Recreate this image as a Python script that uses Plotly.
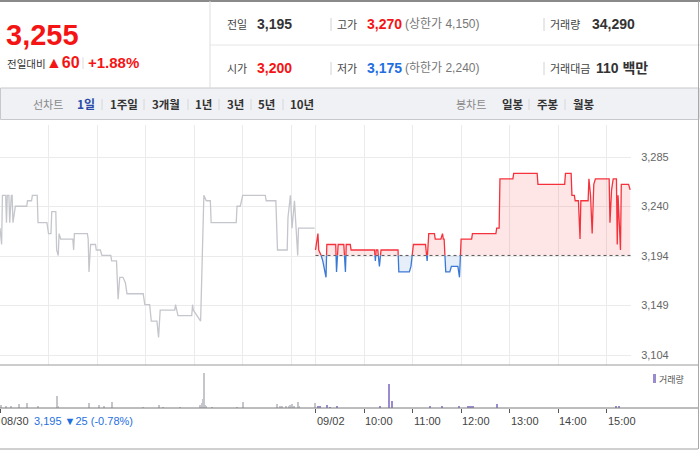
import plotly.graph_objects as go

W, H = 700, 450
PREV_CLOSE = 3195

# ---- Day 1 (08/30) : minutes after 09:00, price ----
d1_t = [0, 2, 3, 7, 8, 9, 11, 12, 14, 15, 16, 19, 33, 34, 39, 40, 46, 47, 58, 60,
        63, 64, 69, 70, 72, 73, 75, 90, 91, 92, 108, 109, 110, 112, 118, 119, 124, 126, 137, 138,
        144, 146, 148, 152, 155, 157, 177, 179, 185, 187, 194, 196, 198, 216, 217, 220, 237, 238, 239, 243,
        248, 252, 255, 260, 261, 292, 293, 297, 300, 328, 329, 341, 343, 355, 356, 359, 361, 364, 368, 369, 389]
d1_p = [3220, 3205, 3250, 3250, 3225, 3250, 3250, 3225, 3250, 3250, 3225, 3240, 3240, 3245, 3245, 3250, 3250, 3225, 3225, 3215,
        3215, 3235, 3235, 3200, 3195, 3215, 3210, 3210, 3200, 3215, 3215, 3210, 3180, 3205, 3205, 3200, 3200, 3195, 3195, 3190,
        3190, 3155, 3175, 3175, 3170, 3160, 3160, 3150, 3150, 3135, 3135, 3120, 3145, 3145, 3150, 3140, 3140, 3150, 3145, 3140,
        3135, 3250, 3245, 3245, 3225, 3225, 3240, 3240, 3250, 3250, 3245, 3245, 3200, 3200, 3230, 3250, 3220, 3245, 3195, 3220, 3220]

# ---- Day 2 (09/02) : minutes after 09:00, price ----
d2_t = [0, 3, 4, 7, 9, 13, 14, 25, 26, 28, 35, 37, 38, 43, 44, 73, 74, 75, 77, 79,
        81, 102, 103, 116, 118, 121, 136, 138, 140, 147, 148, 155, 157, 158, 159, 161, 166, 168, 176, 178,
        180, 193, 194, 223, 224, 227, 228, 244, 245, 274, 275, 308, 309, 316, 317, 320, 321, 325, 327, 328,
        337, 338, 340, 342, 344, 346, 363, 364, 366, 368, 372, 373, 374, 377, 378, 387, 389]
d2_p = [3200, 3215, 3200, 3195, 3190, 3175, 3205, 3205, 3180, 3205, 3205, 3180, 3205, 3205, 3200, 3200, 3190, 3200, 3200, 3185,
        3200, 3200, 3180, 3180, 3185, 3205, 3205, 3190, 3215, 3215, 3210, 3210, 3215, 3210, 3210, 3180, 3180, 3185, 3185, 3175,
        3210, 3210, 3215, 3215, 3220, 3220, 3265, 3265, 3270, 3270, 3260, 3260, 3270, 3270, 3250, 3250, 3245, 3245, 3210, 3245,
        3245, 3265, 3250, 3215, 3260, 3265, 3265, 3225, 3255, 3265, 3265, 3205, 3250, 3200, 3260, 3260, 3255]

# ---- Volume : minutes on the two-day axis, shares ----
vol1_t = [1, 8, 14, 23, 34, 47, 71, 72, 110, 123, 128, 139, 177, 196, 201, 222, 247, 250, 251, 252,
          253, 255, 262, 293, 300, 342, 346, 348, 354, 357, 359, 361, 363, 368, 370, 389]
vol1_v = [800, 400, 400, 1200, 1500, 600, 3600, 500, 1500, 800, 400, 1800, 300, 900, 300, 300, 800, 1400, 2700, 10800,
          1000, 500, 300, 300, 1800, 1200, 600, 600, 500, 600, 1000, 1200, 400, 1800, 400, 1600]
vol2_t = [393, 396, 404, 408, 417, 470, 481, 485, 532, 547, 568, 578, 580, 582, 585, 615, 762, 765]
vol2_v = [600, 400, 900, 300, 600, 400, 7500, 2200, 600, 400, 400, 400, 500, 400, 500, 1300, 400, 400]

y_tickvals = [3104, 3149.25, 3194.5, 3239.75, 3285]
y_ticktext = ["3,104", "3,149", "3,194", "3,240", "3,285"]
x_grid = [60, 120, 180, 240, 300, 360, 390, 450, 510, 570, 630, 690, 750]
x_ticks = [0, 390, 450, 510, 570, 630, 690, 750]
x_ticktext = ["08/30", "09/02", "10:00", "11:00", "12:00", "13:00", "14:00", "15:00"]

DAY = 390
t2 = [DAY + t for t in d2_t]

# split day-2 series at the previous close for red/blue colouring
xs, ys = [t2[0]], [d2_p[0]]
for i in range(1, len(t2)):
    a, b = d2_p[i - 1] - PREV_CLOSE, d2_p[i] - PREV_CLOSE
    if a * b < 0:
        xc = t2[i - 1] + (t2[i] - t2[i - 1]) * (-a) / (b - a)
        xs.append(xc)
        ys.append(PREV_CLOSE)
    xs.append(t2[i])
    ys.append(d2_p[i])
red_y = [v if v >= PREV_CLOSE else None for v in ys]
blue_y = [v if v <= PREV_CLOSE else None for v in ys]
up_fill = [max(v, PREV_CLOSE) for v in ys]
dn_fill = [min(v, PREV_CLOSE) for v in ys]

RED = "#f5323c"
BLUE = "#3a78d6"
GRAY = "#c4c6cb"

fig = go.Figure()
fig.add_trace(go.Scatter(x=d1_t, y=d1_p, mode="lines", line=dict(color=GRAY, width=1.3),
                         hoverinfo="skip", showlegend=False))
base_x = [t2[0], t2[-1]]
base_y = [PREV_CLOSE, PREV_CLOSE]
fig.add_trace(go.Scatter(x=base_x, y=base_y, mode="lines", line=dict(width=0), showlegend=False, hoverinfo="skip"))
fig.add_trace(go.Scatter(x=xs, y=up_fill, mode="lines", line=dict(width=0), fill="tonexty",
                         fillcolor="rgba(245,60,70,0.13)", showlegend=False, hoverinfo="skip"))
fig.add_trace(go.Scatter(x=base_x, y=base_y, mode="lines", line=dict(width=0), showlegend=False, hoverinfo="skip"))
fig.add_trace(go.Scatter(x=xs, y=dn_fill, mode="lines", line=dict(width=0), fill="tonexty",
                         fillcolor="rgba(60,120,215,0.13)", showlegend=False, hoverinfo="skip"))
fig.add_trace(go.Scatter(x=[DAY, 2 * DAY], y=base_y, mode="lines",
                         line=dict(color="#555555", width=1, dash="dot"), showlegend=False, hoverinfo="skip"))
fig.add_trace(go.Scatter(x=xs, y=red_y, mode="lines", line=dict(color=RED, width=1.3),
                         connectgaps=False, showlegend=False, hoverinfo="skip"))
fig.add_trace(go.Scatter(x=xs, y=blue_y, mode="lines", line=dict(color=BLUE, width=1.3),
                         connectgaps=False, showlegend=False, hoverinfo="skip"))

fig.add_trace(go.Bar(x=vol1_t, y=vol1_v, width=1.3, marker=dict(color="#c4c6cb", line=dict(width=0)),
                     xaxis="x2", yaxis="y2", showlegend=False, hoverinfo="skip"))
fig.add_trace(go.Bar(x=vol2_t, y=vol2_v, width=1.3, marker=dict(color="#9a8bd0", line=dict(width=0)),
                     xaxis="x2", yaxis="y2", showlegend=False, hoverinfo="skip"))


def px(x):
    return x / W


def py(y):
    return 1 - y / H


k = 181 / 198
plot_right = 631 / W
fig.update_layout(
    width=W, height=H, margin=dict(l=0, r=0, t=0, b=0),
    paper_bgcolor="white", plot_bgcolor="white", bargap=0,
    font=dict(family="Liberation Sans, Noto Sans CJK KR, sans-serif", color="#333"),
    xaxis=dict(domain=[0, plot_right], range=[0, 2 * DAY], tickvals=x_grid, showticklabels=False,
               showgrid=True, gridcolor="#ebebeb", gridwidth=1, zeroline=False, ticks="", fixedrange=True),
    yaxis=dict(domain=[py(365), py(125)], range=[3285 - (365 - 157) * k, 3285 + (157 - 125) * k],
               side="right", tickvals=y_tickvals, ticktext=y_ticktext, showgrid=True, gridcolor="#ebebeb",
               zeroline=False, ticks="outside", ticklen=7, tickcolor="rgba(0,0,0,0)",
               tickfont=dict(size=11, color="#666", family="Liberation Sans, sans-serif")),
    xaxis2=dict(domain=[0, plot_right], range=[0, 2 * DAY], anchor="y2", tickvals=x_ticks,
                showticklabels=False, ticks="outside", ticklen=4, tickcolor="#555", tickwidth=1,
                showgrid=False, zeroline=False),
    yaxis2=dict(domain=[py(408), py(366)], range=[0, 12900], visible=False),
)

shapes = []


def line(x0, y0, x1, y1, color, width=1):
    shapes.append(dict(type="line", xref="paper", yref="paper", x0=px(x0), y0=py(y0), x1=px(x1), y1=py(y1),
                       line=dict(color=color, width=width)))


# header
line(0, 1, 700, 1, "#8a8a8a", 2)
line(210, 1, 210, 88, "#dddddd")
line(210, 45, 700, 45, "#e6e6e6")
for sx in (331, 544):
    line(sx, 18, sx, 31, "#d2d2d2")
    line(sx, 62, sx, 75, "#d2d2d2")
line(83, 57, 83, 69, "#dddddd")
# toolbar
shapes.append(dict(type="rect", xref="paper", yref="paper", x0=px(0.5), x1=px(699), y0=py(88), y1=py(119.5),
                   fillcolor="#eff1f5", line=dict(color="#c6c8cc", width=1), layer="below"))
for sx in (102, 144, 188, 219, 251, 283, 529, 565):
    line(sx, 99, sx, 110, "#d4d6da")
# chart frame lines
line(0, 365, 698, 365, "#9a9a9a")
line(0, 408, 698, 408, "#7a7a7a")
line(0, 449, 698, 449, "#a0a0a0")
line(698.5, 1, 698.5, 449, "#a8a8a8")
# legend swatch
shapes.append(dict(type="rect", xref="paper", yref="paper", x0=px(653), x1=px(656), y0=py(383), y1=py(374),
                   fillcolor="#9a8bd0", line=dict(width=0)))
fig.update_layout(shapes=shapes)

KFONT = "Noto Sans CJK KR, sans-serif"
NFONT = "Liberation Sans, Noto Sans CJK KR, sans-serif"
ann = []


def text(x, y, s, size, color, family=NFONT, bold=False, anchor="left"):
    if bold:
        s = "<b>" + s + "</b>"
    ann.append(dict(xref="paper", yref="paper", x=px(x), y=py(y), text=s, showarrow=False,
                    xanchor=anchor, yanchor="middle", font=dict(size=size, color=color, family=family),
                    borderpad=0))


# header left
text(5, 35, "3,255", 29, "#f51414", bold=True)
text(6, 63, "전일대비", 10.5, "#333", KFONT)
text(45, 62, "▲60", 16, "#f51414", bold=True)
text(87, 62, "+1.88%", 15, "#f51414", bold=True)
# header rows
text(226, 24, "전일", 11, "#444", KFONT)
text(256, 24, "3,195", 14, "#333", bold=True)
text(336, 24, "고가", 11, "#444", KFONT)
text(366, 24, "3,270", 14, "#f51414", bold=True)
text(404, 24, "(상한가 4,150)", 12, "#777", NFONT)
text(549, 24, "거래량", 11, "#444", KFONT)
text(591, 24, "34,290", 14, "#333", bold=True)
text(226, 68, "시가", 11, "#444", KFONT)
text(256, 68, "3,200", 14, "#f51414", bold=True)
text(336, 68, "저가", 11, "#444", KFONT)
text(366, 68, "3,175", 14, "#1f6fe0", bold=True)
text(404, 68, "(하한가 2,240)", 12, "#777", NFONT)
text(549, 68, "거래대금", 11, "#444", KFONT)
text(595, 68, "110 백만", 14, "#333", bold=True)
# toolbar
text(32, 104, "선차트", 11, "#888", KFONT)
text(76, 104, "1일", 12, "#2b4aa8", KFONT, bold=True)
for xx, s in [(109, "1주일"), (151, "3개월"), (194, "1년"), (226, "3년"), (257, "5년"), (289, "10년"),
              (501, "일봉"), (536, "주봉"), (572, "월봉")]:
    text(xx, 104, s, 11.5, "#333", KFONT, bold=True)
text(455, 104, "봉차트", 11, "#888", KFONT)
# legend
text(658, 379, "거래량", 9, "#555", KFONT)
# x labels
for tv, lab in zip(x_ticks, x_ticktext):
    xpix = tv / (2 * DAY) * 631
    text(xpix, 421, lab, 11, "#444", NFONT)
text(33, 421, "3,195 ▼25 (-0.78%)", 11, "#1f6fe0", NFONT)

fig.update_layout(annotations=ann)
fig.write_html("out.html", config={"displayModeBar": False},
               post_script="document.body.style.margin='0';document.body.style.overflow='hidden';")
